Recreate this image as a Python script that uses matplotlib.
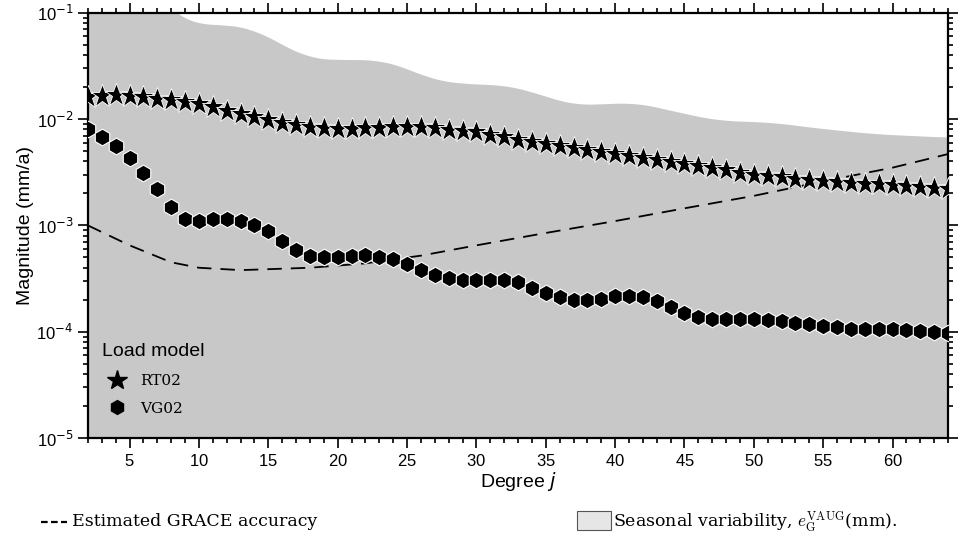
import numpy as np
import matplotlib
matplotlib.use("Agg")
import matplotlib.pyplot as plt
from matplotlib.lines import Line2D
from matplotlib.patches import Rectangle
from matplotlib.ticker import LogLocator, NullFormatter

# ── data ─────────────────────────────────────────────────────────────────────
deg = np.arange(2, 65)

rt_deg = [2, 4, 6, 8, 10, 12, 14, 16, 18, 20, 23, 26, 30, 35, 40, 45, 50, 55, 60, 64]
rt_val = [1.6e-2, 1.7e-2, 1.6e-2, 1.5e-2, 1.4e-2, 1.2e-2, 1.05e-2, 9.3e-3, 8.5e-3,
          8.1e-3, 8.3e-3, 8.5e-3, 7.5e-3, 5.8e-3, 4.7e-3, 3.8e-3, 3.0e-3, 2.6e-3,
          2.4e-3, 2.2e-3]

vg_val = [8e-3, 6.8e-3, 5.6e-3, 4.3e-3, 3.1e-3, 2.2e-3, 1.5e-3, 1.15e-3, 1.1e-3,
          1.15e-3, 1.15e-3, 1.1e-3, 1.0e-3, 8.8e-4, 7.2e-4, 5.9e-4, 5.2e-4, 5.0e-4,
          5.1e-4, 5.2e-4, 5.3e-4, 5.1e-4, 4.8e-4, 4.3e-4, 3.8e-4, 3.4e-4, 3.2e-4,
          3.1e-4, 3.1e-4, 3.1e-4, 3.1e-4, 2.95e-4, 2.6e-4, 2.3e-4, 2.1e-4, 2.0e-4,
          2.0e-4, 2.05e-4, 2.15e-4, 2.15e-4, 2.1e-4, 1.95e-4, 1.7e-4, 1.5e-4,
          1.38e-4, 1.33e-4, 1.32e-4, 1.32e-4, 1.32e-4, 1.3e-4, 1.27e-4, 1.22e-4,
          1.18e-4, 1.14e-4, 1.1e-4, 1.07e-4, 1.05e-4, 1.05e-4, 1.05e-4, 1.04e-4,
          1.02e-4, 1.0e-4, 9.7e-5]

grace_deg = [2, 5, 8, 10, 13, 18, 22, 26, 30, 35, 40, 45, 50, 55, 60, 64]
grace_val = [1e-3, 6.5e-4, 4.5e-4, 4.0e-4, 3.8e-4, 4.0e-4, 4.4e-4, 5.2e-4, 6.5e-4,
             8.5e-4, 1.1e-3, 1.45e-3, 1.9e-3, 2.6e-3, 3.5e-3, 4.7e-3]

seas_deg = [2, 6, 8.2, 9.5, 12, 14, 16, 18, 20, 23, 25, 27, 30, 32, 34, 37, 41.6,
            44, 47.3, 51.6, 54.5, 58.8, 64]
seas_val = [0.3, 0.2, 0.1, 0.078, 0.077, 0.07, 0.05, 0.037, 0.036, 0.036, 0.03,
            0.023, 0.021, 0.021, 0.018, 0.0135, 0.0142, 0.012, 0.0097, 0.0092,
            0.0082, 0.0072, 0.0067]

rt = np.exp(np.interp(deg, rt_deg, np.log(rt_val)))
grace = np.exp(np.interp(deg, grace_deg, np.log(grace_val)))
xs = np.linspace(2, 64, 621)
seas_log = np.interp(xs, seas_deg, np.log(seas_val))
k = 15  # light smoothing of the envelope
seas_log = np.convolve(np.pad(seas_log, k, mode="edge"), np.ones(2 * k + 1) / (2 * k + 1), "valid")
seas = np.exp(seas_log)

# ── figure ───────────────────────────────────────────────────────────────────
plt.rcParams["font.family"] = ["Liberation Sans", "DejaVu Sans"]
plt.rcParams["axes.formatter.use_mathtext"] = True
fig = plt.figure(figsize=(9.8, 5.45), dpi=100)
ax = fig.add_axes([0.0898, 0.1963, 0.8776, 0.78])

ax.fill_between(xs, 1e-6, seas, color="#c8c8c8", lw=0, zorder=1)
ax.plot(deg, grace, color="black", ls=(0, (8, 5)), lw=1.3, zorder=2)
ax.plot(deg, rt, ls="none", marker="*", ms=17, mfc="black", mec="white", mew=0.6, zorder=3)
ax.plot(deg, vg_val, ls="none", marker="h", ms=12, mfc="black", mec="white", mew=0.8, zorder=4)

ax.set_yscale("log")
ax.set_xlim(2, 64)
ax.set_ylim(1e-5, 1e-1)
ax.set_xticks(range(5, 65, 5))
ax.set_xticks(range(2, 65), minor=True)
ax.set_yticks([1e-5, 1e-4, 1e-3, 1e-2, 1e-1])
ax.yaxis.set_minor_locator(LogLocator(base=10, subs=np.arange(2, 10)))
ax.yaxis.set_minor_formatter(NullFormatter())
ax.set_yticklabels([r"10$^{%d}$" % e for e in range(-5, 0)])
for lab in ax.get_yticklabels():
    lab.set_math_fontfamily("dejavusans")
ax.tick_params(which="both", direction="out", top=True, right=True, labelsize=12,
               width=1.2)
ax.tick_params(which="major", length=7)
ax.tick_params(which="minor", length=3.5)
for s in ax.spines.values():
    s.set_linewidth(1.6)

ax.set_xlabel(r"Degree $j$", fontsize=14, labelpad=1)
ax.set_ylabel("Magnitude (mm/a)", fontsize=14, labelpad=2)

handles = [Line2D([], [], ls="none", marker="*", ms=15, color="black"),
           Line2D([], [], ls="none", marker="h", ms=10, color="black")]
leg = ax.legend(handles, ["RT02", "VG02"], title="Load model", loc="lower left",
                frameon=False, prop={"family": "DejaVu Serif", "size": 11},
                title_fontsize=14, bbox_to_anchor=(0.0, 0.02), handletextpad=0.5,
                labelspacing=0.9)
leg._legend_box.align = "left"

# bottom key
fig.add_artist(Line2D([0.042, 0.068], [0.043, 0.043], color="black", lw=1.6,
                      ls=(0, (3, 1.5))))
fig.text(0.073, 0.043, "Estimated GRACE accuracy", family="DejaVu Serif",
         fontsize=12.5, va="center")
fig.add_artist(Rectangle((0.589, 0.028), 0.034, 0.034, transform=fig.transFigure,
                         fc="#e6e6e6", ec="#555555", lw=0.8))
fig.text(0.625, 0.043, r"Seasonal variability, $e_{\rm G}^{\rm VAUG}$(mm).",
         family="DejaVu Serif", fontsize=12.5, va="center", math_fontfamily="cm")

fig.savefig("out.png", dpi=100)
